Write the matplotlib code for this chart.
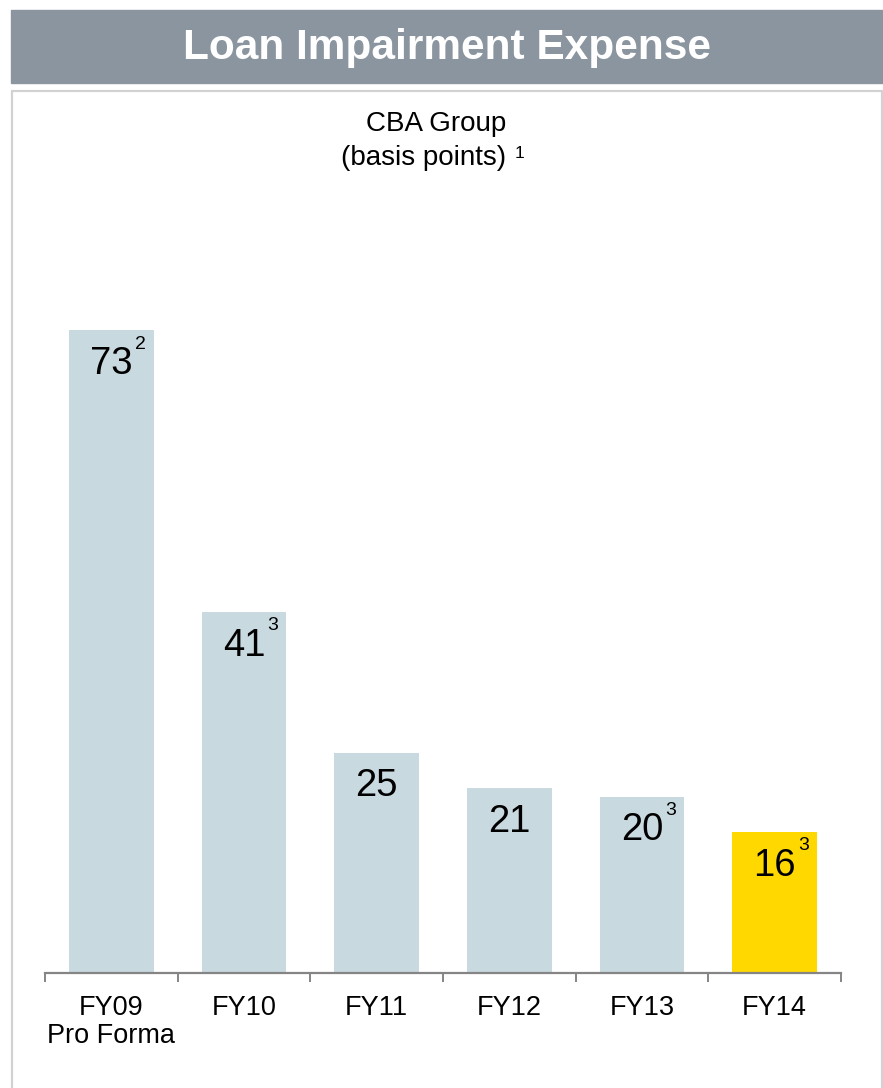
import matplotlib
matplotlib.use('Agg')
import matplotlib.pyplot as plt
from matplotlib.patches import Rectangle

plt.rcParams['font.family'] = ['Liberation Sans', 'DejaVu Sans']

# Data
categories = ['FY09\nPro Forma', 'FY10', 'FY11', 'FY12', 'FY13', 'FY14']
values = [73, 41, 25, 21, 20, 16]
footnotes = ['2', '3', '', '', '3', '3']
highlight = 'FY14'

bar_color = '#C9D9E0'
highlight_color = '#FFD800'
header_color = '#8A959F'
axis_color = '#858585'

W, H = 883, 1088
fig = plt.figure(figsize=(W / 100, H / 100), dpi=100)

# header band and panel border (pixel positions measured from the top)
def fy(px):
    return (H - px) / H

fig.patches.append(Rectangle((11 / W, fy(83)), 1 - 11 / W, 73 / H,
                             transform=fig.transFigure, color=header_color,
                             zorder=0))
fig.patches.append(Rectangle((12 / W, -0.01), 870 / W, fy(91) + 0.01,
                             transform=fig.transFigure, fill=False,
                             edgecolor='#D2D2D2', linewidth=1.6, zorder=0))
fig.text(447 / W, fy(48), 'Loan Impairment Expense', color='white',
         fontsize=30.5, fontweight='bold', ha='center', va='center')
fig.text(436 / W, fy(124), 'CBA Group', fontsize=20, ha='center', va='center')
fig.text(424 / W, fy(158), '(basis points)', fontsize=20, ha='center',
         va='center')
fig.text(515 / W, fy(153), '1', fontsize=12.5, ha='left', va='center')

ax = fig.add_axes([45 / W, fy(972.5), 796 / W, 704 / H])
x = range(len(categories))
colors = [highlight_color if c == highlight else bar_color for c in categories]
ax.bar(x, values, width=0.64, color=colors, zorder=1)

for i, (v, fn) in enumerate(zip(values, footnotes)):
    num = ax.annotate(str(v), xy=(i, v), xytext=(0, -34),
                      textcoords='offset pixels', ha='center', va='center',
                      fontsize=27.5)
    if fn:
        ax.annotate(fn, xy=(1, v), xycoords=(num, 'data'), xytext=(2, -14),
                    textcoords='offset pixels', ha='left', va='center',
                    fontsize=14)

ax.set_xlim(-0.5, len(categories) - 0.5)
ax.set_ylim(0, 80)
ax.set_yticks([])
for side in ['left', 'right', 'top']:
    ax.spines[side].set_visible(False)
ax.spines['bottom'].set_color(axis_color)
ax.spines['bottom'].set_linewidth(1.6)

ax.set_xticks(list(x))
ax.set_xticklabels(categories, fontsize=19.5, linespacing=1.12)
ax.tick_params(axis='x', which='major', length=0, pad=16)
ax.set_xticks([i - 0.5 for i in range(len(categories) + 1)], minor=True)
ax.tick_params(axis='x', which='minor', length=6.5, width=1.4,
               color=axis_color)

fig.savefig('out.png', dpi=100, facecolor='white')
